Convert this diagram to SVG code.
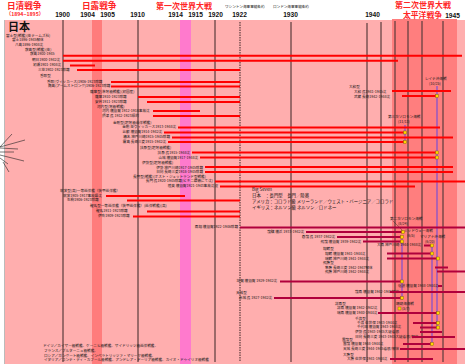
<svg xmlns="http://www.w3.org/2000/svg" width="470" height="364" viewBox="0 0 470 364">
<style>
.t{font-family:"Noto Sans CJK JP","Noto Sans",sans-serif;font-size:3.6px;fill:#1a1a1a}
.e{text-anchor:end}
.yr{font-family:"Liberation Sans",Arial,sans-serif;font-size:6.6px;font-weight:bold;fill:#111;text-anchor:middle}
.war{font-family:"Noto Sans CJK JP",sans-serif;font-weight:bold;fill:#FF2626}
.r{stroke:#FF0000;stroke-width:2}
.c{stroke:#B0003C;stroke-width:2}
.v{stroke:#5A3C3C;stroke-width:1.2}
.p{stroke:#9A5AC0;stroke-width:1.8;opacity:0.85}
.m{fill:#FFD800;stroke:#7A5A00;stroke-width:0.4}
.bs{font-family:"Noto Sans CJK JP",sans-serif;font-size:4.4px;fill:#111}
</style>
<rect x="0" y="0" width="470" height="364" fill="#ffffff"/>
<g id="background">
<rect x="5" y="20" width="460" height="344" fill="#FFAEAE"/>
<rect x="92" y="20" width="10" height="344" fill="#FF7C7C"/>
<rect x="180" y="20" width="11" height="344" fill="#FF7ACD"/>
<rect x="392" y="19" width="65" height="345" fill="#FF7E7E"/>
<line x1="4.5" y1="20" x2="4.5" y2="364" stroke="#bbb" stroke-width="1"/>
</g>
<g id="year-lines">
<line class="v" x1="63" y1="20" x2="63" y2="362"/>
<line class="v" x1="138" y1="20" x2="138" y2="362"/>
<line class="v" x1="215" y1="20" x2="215" y2="362"/>
<line class="v" x1="240" y1="22" x2="240" y2="362" stroke-dasharray="1.5,1"/>
<line class="v" x1="291" y1="22" x2="291" y2="362"/>
<line class="v" x1="367" y1="23" x2="367" y2="362"/>
<line class="v" x1="381" y1="22" x2="381" y2="362"/>
<line class="v" x1="395" y1="21" x2="395" y2="362"/>
<line class="v" x1="408" y1="21" x2="408" y2="362"/>
<line class="v" x1="422" y1="21" x2="422" y2="362"/>
<line class="v" x1="443" y1="21" x2="443" y2="362"/>
</g>
<g id="header">
<text class="war" x="7" y="8.8" font-size="8.6">日清戦争</text>
<text class="war" x="6" y="16.3" font-size="5.2">（1894−1895）</text>
<text class="war" x="82" y="8.5" font-size="8.6">日露戦争</text>
<text class="war" x="156" y="8.5" font-size="8">第一次世界大戦</text>
<text class="war" x="395" y="8.3" font-size="8">第二次世界大戦</text>
<text class="war" x="403" y="18" font-size="7.8">太平洋戦争</text>
<text class="yr" x="62.5" y="17">1900</text>
<text class="yr" x="87.5" y="17">1904</text>
<text class="yr" x="107.5" y="17">1905</text>
<text class="yr" x="137.5" y="17">1910</text>
<text class="yr" x="175.5" y="17">1914</text>
<text class="yr" x="195.5" y="17">1915</text>
<text class="yr" x="215.5" y="17">1920</text>
<text class="yr" x="239.5" y="17.3">1922</text>
<text class="yr" x="290.5" y="17">1930</text>
<text class="yr" x="372.5" y="17">1940</text>
<text class="yr" x="452.5" y="18.3">1945</text>
<text class="t" x="225" y="8" font-size="3.4">ワシントン海軍軍縮条約</text>
<text class="t" x="273" y="8" font-size="3.4">ロンドン海軍軍縮条約</text>
<text x="8" y="30.8" font-family="Noto Sans CJK JP,sans-serif" font-size="11" font-weight="bold" fill="#111">日本</text>
</g>
<g id="decor" stroke="#222" stroke-width="0.6">
<line x1="0" y1="147" x2="12" y2="134"/>
<line x1="0" y1="147" x2="25" y2="140"/>
<line x1="0" y1="148" x2="18" y2="149"/>
<line x1="0" y1="152" x2="14" y2="152"/>
<line x1="0" y1="155" x2="24" y2="161"/>
<line x1="0" y1="158" x2="8" y2="164"/>
<line x1="3" y1="162" x2="9" y2="172"/>
</g>
<g id="battles">
<line class="p" x1="437" y1="86" x2="437" y2="328"/>
<line class="p" x1="405" y1="125" x2="405" y2="142"/>
<line class="p" x1="402" y1="239" x2="402" y2="300"/>
<line class="p" x1="432" y1="245" x2="432" y2="345"/>
<text class="t" x="425" y="79.5">レイテ沖海戦</text>
<text class="t" x="429" y="84.5">(10/25)</text>
<text class="t" x="388" y="118">第三次ソロモン海戦</text>
<text class="t" x="398" y="123">(11/13)</text>
<text class="t" x="390" y="219.5">第二次ソロモン海戦</text>
<text class="t" x="398" y="224.5">(8/24)</text>
<line x1="393" y1="221" x2="403" y2="231" stroke="#222" stroke-width="0.4"/>
<text class="t" x="404" y="232">ミッドウェー海戦</text>
<text class="t" x="407" y="237">(6/5)</text>
<text class="t" x="420" y="238">マリアナ沖海戦</text>
<text class="t" x="425" y="243">(6/20)</text>
<text class="t" x="396" y="305">珊瑚海海戦</text>
<text class="t" x="402" y="310">(5/7)</text>
</g>
<g id="fuji">
<text class="t" x="6" y="36.5">富士型(戦艦)(英テームズ社)</text>
<text class="t" x="12" y="41">富士1896-1945解体</text>
<text class="t" x="15" y="45.5">八島1896-1904沈</text>
</g>
<g id="shikishima">
<text class="t" x="25" y="50.5">敷島型(戦艦)(英)</text>
<text class="t" x="30" y="55">敷島1900-1945</text>
<line class="r" x1="63" y1="55.7" x2="462" y2="55.7"/>
<text class="t" x="32" y="60.5">朝日1900-1942沈</text>
<line class="r" x1="63" y1="60.8" x2="398" y2="60.8"/>
<text class="t" x="33" y="65.5">初瀬1901-1904沈</text>
<line class="r" x1="70" y1="65.5" x2="95" y2="65.5"/>
<text class="t" x="38" y="70.5">三笠1902-1923除籍</text>
<line class="r" x1="77" y1="70" x2="240" y2="70"/>
</g>
<g id="katori">
<text class="t" x="40" y="77">香取型</text>
<text class="t" x="47" y="82.5">香取(ヴィッカース)1906-1923除籍</text>
<line class="r" x1="111" y1="82" x2="240" y2="82"/>
<text class="t" x="48" y="87">鹿島(アームストロング)1906-1923除籍</text>
<line class="r" x1="111" y1="86.5" x2="240" y2="86.5"/>
</g>
<g id="satsuma">
<text class="t" x="90" y="93">薩摩型(準弩級戦艦)(初国産)</text>
<text class="t" x="95" y="97.5">薩摩1910-1923除籍</text>
<line class="r" x1="138" y1="97" x2="240" y2="97"/>
<text class="t" x="95" y="102.5">安芸1911-1923除籍</text>
<line class="r" x1="147" y1="102" x2="240" y2="102"/>
</g>
<g id="kawachi">
<text class="t" x="97" y="107.5">河内型(弩級戦艦)</text>
<text class="t" x="102" y="111.5">河内 横須賀 1912-1918事故沈</text>
<line class="r" x1="153" y1="111" x2="200" y2="111"/>
<text class="t" x="102" y="116.5">摂津 呉 1912-1923標的</text>
<line class="r" x1="153" y1="116" x2="240" y2="116"/>
</g>
<g id="kongo">
<text class="t" x="113" y="123.5">金剛型(超弩級巡洋戦艦)</text>
<text class="t e" x="176" y="128">金剛 英ヴィッカース1913-1944沈</text>
<line class="r" x1="178" y1="127.5" x2="440" y2="127.5"/>
<text class="t e" x="162" y="133">比叡 横須賀1914-1942沈</text>
<line class="r" x1="164" y1="132.5" x2="405" y2="132.5"/>
<rect class="m" x="403.5" y="131" width="3" height="3"/>
<text class="t e" x="170" y="138">榛名 神戸川崎1915-1945除籍</text>
<line class="r" x1="172" y1="137.5" x2="453" y2="137.5"/>
<text class="t e" x="166" y="142.5">霧島 長崎三菱1915-1942沈</text>
<line class="r" x1="168" y1="142" x2="405" y2="142"/>
<rect class="m" x="403.5" y="140.5" width="3" height="3"/>
</g>
<g id="fuso">
<text class="t" x="140" y="148.5">扶桑型(超弩級戦艦)</text>
<text class="t e" x="190" y="153.5">扶桑 呉1915-1944沈</text>
<line class="r" x1="192" y1="152.5" x2="437" y2="152.5"/>
<rect class="m" x="435.5" y="151" width="3" height="3"/>
<text class="t e" x="198" y="158.5">山城 横須賀1917-1944沈</text>
<line class="r" x1="200" y1="157.5" x2="437" y2="157.5"/>
<rect class="m" x="435.5" y="156" width="3" height="3"/>
</g>
<g id="ise">
<text class="t" x="142" y="163.5">伊勢型(超弩級戦艦)</text>
<text class="t e" x="203" y="168.5">伊勢 神戸川崎1917-1945除籍</text>
<line class="r" x1="205" y1="167" x2="453" y2="167"/>
<text class="t e" x="203" y="173">日向 長崎三菱1918-1945除籍</text>
<line class="r" x1="205" y1="172" x2="453" y2="172"/>
</g>
<g id="nagato">
<text class="t" x="133" y="177.5">長門型(戦艦)(ポスト・ジュットランド型戦艦)</text>
<text class="t e" x="213" y="182">長門 呉1920-1945除籍(ビキニ環礁にて沈)</text>
<line class="r" x1="215" y1="181.5" x2="465" y2="181.5"/>
<text class="t e" x="218" y="187">陸奥 横須賀1921-1943事故沈没</text>
<line class="r" x1="220" y1="186.5" x2="415" y2="186.5"/>
</g>
<g id="tsukuba">
<text class="t" x="60" y="192">筑波型(高)一等巡洋艦（装甲巡洋艦）</text>
<text class="t" x="63" y="196.5">筑波1905-1917事故爆沈</text>
<line class="r" x1="106" y1="196" x2="185" y2="196"/>
<text class="t" x="67" y="201">生駒1906-1923除籍</text>
<line class="r" x1="127" y1="200.5" x2="240" y2="200.5"/>
</g>
<g id="kurama">
<text class="t" x="90" y="206.5">鞍馬型一等巡洋艦（装甲巡洋艦）(巡洋戦艦)(高)</text>
<text class="t" x="96" y="212">鞍馬1911-1923除籍</text>
<line class="r" x1="147" y1="211.5" x2="240" y2="211.5"/>
<text class="t" x="98" y="217">伊吹1909-1923除籍</text>
<line class="r" x1="133" y1="216.5" x2="240" y2="216.5"/>
</g>
<g id="big-seven">
<text class="bs" x="252" y="190.5" font-family="Liberation Sans,sans-serif">Big Seven</text>
<text class="bs" x="252" y="197">日本　：長門型　長門／陸奥</text>
<text class="bs" x="252" y="203">アメリカ：コロラド級 メリーランド／ウェスト・バージニア／コロラド</text>
<text class="bs" x="252" y="209">イギリス：ネルソン級 ネルソン／ロドネー</text>
</g>
<g id="yamato">
<text class="t" x="349" y="87.5">大和型</text>
<text class="t" x="354" y="92.5">大和 呉1941-1945沈</text>
<line class="r" x1="392" y1="91" x2="451" y2="91"/>
<text class="t" x="354" y="97.5">武蔵 長崎1942-1944沈</text>
<line class="r" x1="402" y1="96" x2="437" y2="96"/>
<rect class="m" x="435.5" y="94.5" width="3" height="3"/>
</g>
<g id="carriers">
<text class="t e" x="238" y="228">鳳翔 横須賀1922-1946除籍</text>
<line class="c" x1="240" y1="227.5" x2="465" y2="227.5"/>
<text class="t e" x="304" y="233">龍驤 横浜 1933-1942沈</text>
<line class="c" x1="306" y1="232" x2="403" y2="232"/>
<rect class="m" x="401.5" y="230.5" width="3" height="3"/>
<text class="t e" x="335" y="237.5">蒼龍 呉 1937-1942沈</text>
<line class="c" x1="337" y1="237" x2="402" y2="237"/>
<rect class="m" x="400.5" y="235.5" width="3" height="3"/>
<text class="t e" x="361" y="242.5">飛龍 横須賀 1939-1942沈</text>
<line class="c" x1="363" y1="241.5" x2="402" y2="241.5"/>
<rect class="m" x="400.5" y="240" width="3" height="3"/>
<text class="t" x="377" y="246">大鳳 神戸川崎 1944-1944沈</text>
<line class="c" x1="424" y1="245.5" x2="432" y2="245.5"/>
<rect class="m" x="430.5" y="244" width="3" height="3"/>
<text class="t" x="323" y="249.5">翔鶴型</text>
<text class="t" x="325" y="254.5">翔鶴 横須賀 1941-1944沈</text>
<line class="c" x1="387" y1="253.5" x2="432" y2="253.5"/>
<rect class="m" x="430.5" y="252" width="3" height="3"/>
<text class="t" x="325" y="259.5">瑞鶴 神戸川崎 1941-1944沈</text>
<line class="c" x1="387" y1="258.5" x2="438" y2="258.5"/>
<rect class="m" x="436.5" y="257" width="3" height="3"/>
<text class="t" x="323" y="264">飛鷹型</text>
<text class="t" x="325" y="268.5">隼鷹 長崎三菱 1942-1947解体</text>
<line class="c" x1="435" y1="267.5" x2="448" y2="267.5"/>
<text class="t" x="325" y="273">飛鷹 神戸川崎 1942-1944沈</text>
<line class="c" x1="437" y1="271.5" x2="465" y2="271.5"/>
<text class="t e" x="277" y="282">加賀 横須賀 1929-1942沈</text>
<line class="c" x1="280" y1="281.5" x2="402" y2="281.5"/>
<rect class="m" x="400.5" y="280" width="3" height="3"/>
<text class="t" x="398" y="286.5">信濃 横須賀 1944-1944沈</text>
<line class="c" x1="438" y1="286" x2="442" y2="286"/>
<text class="t" x="355" y="292.5">龍鳳 横須賀 1942-1946解体</text>
<line class="c" x1="390" y1="292" x2="465" y2="292"/>
<text class="t" x="236" y="293.5">天城型</text>
<text class="t e" x="272" y="298.5">赤城 呉 1927-1942沈</text>
<line class="c" x1="274" y1="298" x2="402" y2="298"/>
<rect class="m" x="400.5" y="296.5" width="3" height="3"/>
<text class="t" x="335" y="304.5">祥鳳型</text>
<text class="t" x="337" y="309">祥鳳 横須賀 1942-1942沈</text>
<rect class="m" x="398" y="307" width="3" height="3"/>
<text class="t" x="337" y="314">瑞鳳 横須賀 1940-1944沈</text>
<line class="c" x1="378" y1="313" x2="438" y2="313"/>
<rect class="m" x="436.5" y="311.5" width="3" height="3"/>
<text class="t" x="355" y="319.5">千歳型</text>
<text class="t" x="357" y="324">千歳 佐世保 1943-1944沈</text>
<line class="c" x1="413" y1="323" x2="438" y2="323"/>
<rect class="m" x="436.5" y="321.5" width="3" height="3"/>
<text class="t" x="357" y="328">千代田 横須賀 1943-1944沈</text>
<line class="c" x1="420" y1="327.5" x2="438" y2="327.5"/>
<rect class="m" x="436.5" y="326" width="3" height="3"/>
<text class="t" x="355" y="333">伊勢 呉 1943-1945大破着底</text>
<line class="c" x1="420" y1="332" x2="442" y2="332"/>
<text class="t" x="355" y="338">日向 長崎三菱 1943-1945大破着底/解体</text>
<line class="c" x1="412" y1="337" x2="455" y2="337"/>
<text class="t" x="342" y="341">雲龍型</text>
<text class="t" x="343" y="345">雲龍 横須賀 1944-1944沈</text>
<line class="c" x1="403" y1="344" x2="432" y2="344"/>
<rect class="m" x="430.5" y="342.5" width="3" height="3"/>
<text class="t" x="343" y="350">天城 長崎三菱 1944-1945着底/解体</text>
<line class="c" x1="400" y1="349" x2="465" y2="349"/>
<text class="t" x="343" y="355.5">大鷹型</text>
<text class="t" x="347" y="360">大鷹 佐世保 1941-1944沈</text>
<line class="c" x1="390" y1="359" x2="433" y2="359"/>
</g>
<g id="others">
<text class="t" x="43" y="346.5" font-size="3.4">ドイツ／カイザー級戦艦、ケーニヒ級戦艦、ザイドリッツ級巡洋戦艦、</text>
<text class="t" x="44" y="351.5" font-size="3.4">フランス／ブルターニュ級戦艦、</text>
<text class="t" x="44" y="356.5" font-size="3.4">ロシア／ガングート級戦艦、インペラトリッツァ・マリーヤ級戦艦、</text>
<text class="t" x="44" y="361" font-size="3.4">イタリア／コンテ・ディ・カブール級戦艦、アンドレア・ドーリア級戦艦、カイオ・ドゥイリオ級戦艦</text>
</g>
</svg>
